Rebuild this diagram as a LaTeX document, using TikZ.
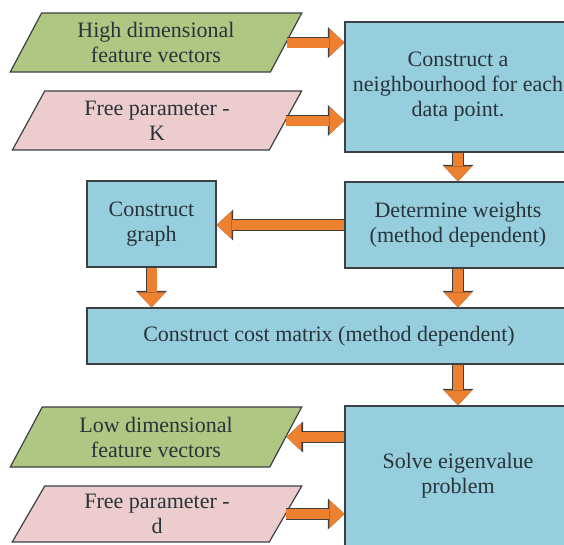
\documentclass[tikz,border=0pt]{standalone}
\usepackage{fontspec}
\setmainfont{Liberation Serif}
\newfontfamily\boxfamily{Liberation Serif}
\usetikzlibrary{shapes.geometric}
\usetikzlibrary{arrows.meta}
\usetikzlibrary{calc}

\definecolor{procblue}{RGB}{151,206,222}
\definecolor{ingreen}{RGB}{174,199,131}
\definecolor{inpink}{RGB}{236,204,204}
\definecolor{arroworange}{RGB}{238,129,48}
\definecolor{edgegray}{RGB}{60,64,66}
\definecolor{textgray}{RGB}{40,52,58}
\newcommand{\boxfont}{\boxfamily\fontsize{22}{25}\selectfont}

\begin{document}
\begin{tikzpicture}[
		x=1pt, y=-1pt,
		every node/.style={font=\boxfont, text=textgray, align=center, inner sep=0pt},
		procbox/.style = {draw=edgegray, fill=procblue, line width=1.2pt},
		iobox/.style = {draw=edgegray, line width=1.2pt, trapezium, trapezium left angle=62, trapezium right angle=118, trapezium stretches=true},
		blockarrow/.style = {draw=arroworange, line width=10pt, -{Triangle[width=28pt,length=15pt,line width=0pt]},
			preaction={draw=edgegray, line width=11.6pt, -{Triangle[width=31pt,length=16.6pt,line width=0pt]}}}
		]

	\useasboundingbox (0,0) rectangle (564,544);

	\node[iobox, fill=ingreen, minimum width=292pt, minimum height=59pt] (hfv) at (156,42.5) {High dimensional\\feature vectors};
	\node[iobox, fill=inpink, minimum width=290pt, minimum height=59pt] (fpk) at (157,120.5) {Free parameter -\\K};
	\node[iobox, fill=ingreen, minimum width=292pt, minimum height=60pt] (lfv) at (156,437) {Low dimensional\\feature vectors};
	\node[iobox, fill=inpink, minimum width=290pt, minimum height=56pt] (fpd) at (157,514) {Free parameter -\\d};

	\node[procbox, minimum width=226pt, minimum height=130pt] (nbh) at (458,87) {Construct a\\neighbourhood for each\\data point.};
	\node[procbox, minimum width=226pt, minimum height=86pt] (det) at (458,225) {Determine weights\\(method dependent)};
	\node[procbox, minimum width=129pt, minimum height=86pt] (graph) at (151.5,224) {Construct\\graph};
	\node[procbox, minimum width=484pt, minimum height=56pt] (cost) at (329,336) {Construct cost matrix (method dependent)};
	\node[procbox, minimum width=226pt, minimum height=140pt] (solve) at (458,476) {Solve eigenvalue\\problem};

	\draw[blockarrow] (hfv.east) -- (hfv.east -| nbh.west);
	\draw[blockarrow] (fpk.east) -- (fpk.east -| nbh.west);
	\draw[blockarrow] (nbh.south) -- (det.north);
	\draw[blockarrow] (det.west) -- (det.west -| graph.east);
	\draw[blockarrow] (graph.south) -- (graph.south |- cost.north);
	\draw[blockarrow] (det.south) -- (det.south |- cost.north);
	\draw[blockarrow] (cost.south -| solve.north) -- (solve.north);
	\draw[blockarrow] (lfv.east -| solve.west) -- (lfv.east);
	\draw[blockarrow] (fpd.east) -- (fpd.east -| solve.west);
\end{tikzpicture}
\end{document}
